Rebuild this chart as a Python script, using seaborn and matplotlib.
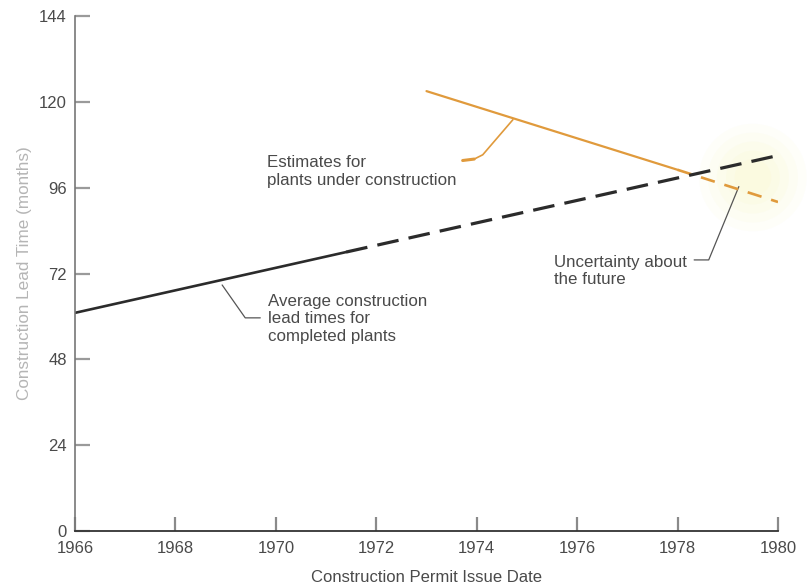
import numpy as np
import pandas as pd
import matplotlib
matplotlib.use("Agg")
import matplotlib.pyplot as plt
import seaborn as sns

# ---- data ----
completed_years = [1966, 1971.4]
completed_months = [61, 78]
completed_future_years = [1971.4, 1980]
completed_future_months = [78, 105]
estimate_years = [1973, 1978]
estimate_months = [123, 101]
estimate_future_years = [1978, 1980]
estimate_future_months = [101, 92]

x_ticks = [1966, 1968, 1970, 1972, 1974, 1976, 1978, 1980]
y_ticks = [0, 24, 48, 72, 96, 120, 144]

sns.set_theme(style="white")
plt.rcParams['font.family'] = ['Liberation Sans', 'DejaVu Sans']

fig = plt.figure(figsize=(8.09, 5.87), dpi=100)
ax = fig.add_axes([0.0927, 0.0954, 0.8690, 0.8773])

BLACK = '#2b2b2b'
ORANGE = '#e09a3c'
TXT = '#4a4a4a'

# pale glow ("uncertainty") around the diverging future lines
gx = 1979.5
gy = (np.interp(gx, completed_future_years, completed_future_months) +
      np.interp(gx, estimate_future_years, estimate_future_months)) / 2
for s, a in [(6000, 0.09), (4200, 0.11), (2700, 0.13), (1500, 0.15), (700, 0.17)]:
    ax.scatter([gx], [gy], s=s, color='#fbf7c4', alpha=a, edgecolors='none',
               zorder=1, clip_on=False)

df1 = pd.DataFrame({'year': completed_years, 'months': completed_months})
df2 = pd.DataFrame({'year': completed_future_years, 'months': completed_future_months})
df3 = pd.DataFrame({'year': estimate_years, 'months': estimate_months})
df4 = pd.DataFrame({'year': estimate_future_years, 'months': estimate_future_months})

sns.lineplot(data=df3, x='year', y='months', ax=ax, color=ORANGE, lw=1.6, zorder=3)
sns.lineplot(data=df4, x='year', y='months', ax=ax, color=ORANGE, lw=1.9,
             linestyle=(0, (5.5, 3.8)), zorder=3)
sns.lineplot(data=df1, x='year', y='months', ax=ax, color=BLACK, lw=1.9, zorder=4)
sns.lineplot(data=df2, x='year', y='months', ax=ax, color=BLACK, lw=2.3,
             linestyle=(0, (6.8, 3.2)), zorder=4)

ax.set_xlim(1966, 1980)
ax.set_ylim(0, 144)
ax.set_xticks(x_ticks)
ax.set_yticks(y_ticks)
ax.set_xticklabels([str(t) for t in x_ticks])
ax.set_yticklabels([str(t) for t in y_ticks])

for sp in ['top', 'right']:
    ax.spines[sp].set_visible(False)
ax.spines['left'].set_color('#777777')
ax.spines['left'].set_linewidth(1.2)
ax.spines['bottom'].set_color('#333333')
ax.spines['bottom'].set_linewidth(1.3)
ax.spines['left'].set_zorder(5)
ax.spines['bottom'].set_zorder(5)

ax.tick_params(axis='y', direction='in', length=11, width=1.6, color='#9a9a9a',
               labelsize=12, labelcolor=TXT, pad=6, left=True)
ax.tick_params(axis='x', direction='in', length=10, width=1.6, color='#8a8a8a',
               labelsize=12, labelcolor=TXT, pad=7, bottom=True)

ax.set_xlabel('Construction Permit Issue Date', fontsize=12, color=TXT, labelpad=10)
ax.set_ylabel('Construction Lead Time (months)', fontsize=12.3, color='#b5b5b5', labelpad=5)
ax.grid(False)
ax.set_facecolor('white')

# annotations
ax.text(1969.85, 59.3, 'Average construction\nlead times for\ncompleted plants',
        fontsize=12.2, color=TXT, va='center', ha='left', linespacing=1.2)
ax.plot([1968.93, 1969.39, 1969.69], [68.8, 59.6, 59.6], color='#555555', lw=0.9, zorder=2)

ax.text(1969.83, 100.6, 'Estimates for\nplants under construction',
        fontsize=12.2, color=TXT, va='center', ha='left', linespacing=1.25)
ax.plot([1974.72, 1974.12, 1973.95], [115.0, 105.2, 104.0], color=ORANGE, lw=1.2, zorder=2)
ax.plot([1973.95, 1973.72], [104.0, 103.6], color=ORANGE, lw=2.2, solid_capstyle='round', zorder=2)

ax.text(1975.53, 72.7, 'Uncertainty about\nthe future',
        fontsize=12.2, color=TXT, va='center', ha='left', linespacing=1.2)
ax.plot([1978.33, 1978.62, 1979.22], [75.8, 75.8, 96.3], color='#555555', lw=0.9, zorder=2)

fig.savefig('out.png', dpi=100, facecolor='white')
